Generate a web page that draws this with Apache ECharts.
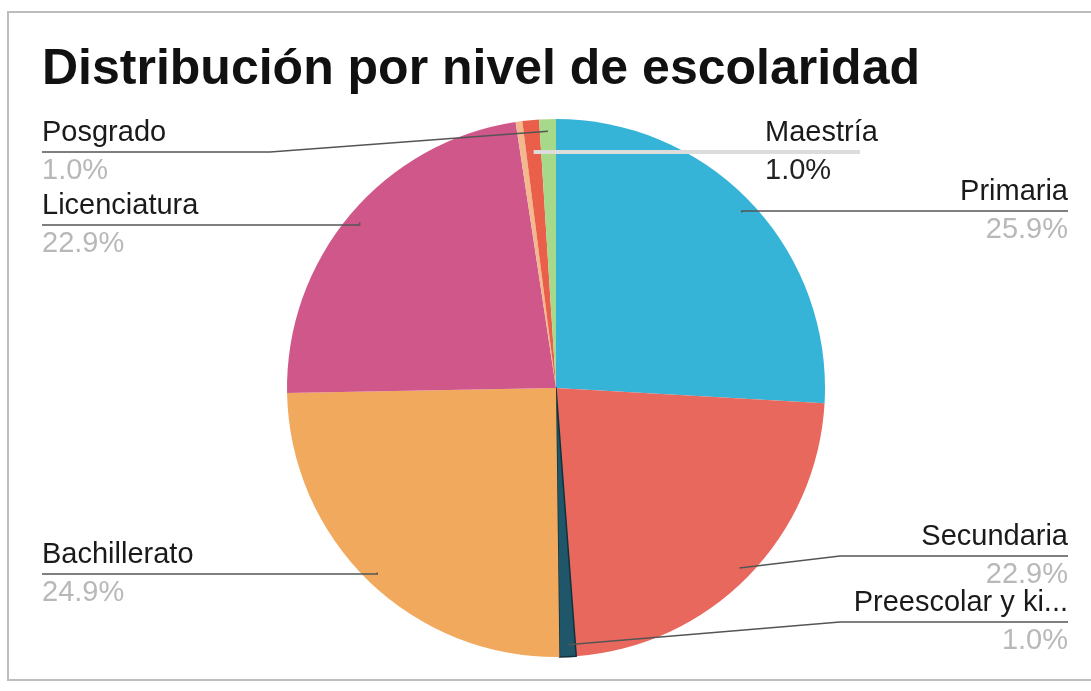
<!DOCTYPE html>
<html>
<head>
<meta charset="utf-8">
<script src="https://cdn.jsdelivr.net/npm/echarts@6/dist/echarts.min.js"></script>
<style>
html,body{margin:0;padding:0;background:#fff;}
#chart{width:1091px;height:691px;}
</style>
</head>
<body>
<div id="chart"></div>
<script>
// ---- data ----
const categories = ['Primaria', 'Secundaria', 'Preescolar y ki...', 'Bachillerato', 'Licenciatura', 'Otro', 'Maestría', 'Posgrado'];
const values = [25.9, 22.9, 1.0, 24.9, 22.9, 0.4, 1.0, 1.0];
const titleText = 'Distribución por nivel de escolaridad';

// ---- styling / layout (not data) ----
const colors = ['#35B4D8', '#E9685D', '#1F566A', '#F1A95D', '#D0578A', '#F3B88E', '#EA5F49', '#A7D98A'];
const CX = 556, CY = 388, R = 269;
const FONT = '"Liberation Sans", Arial, sans-serif';
const placement = [
  {side: 'right', lineY: 211, edge: 1068, rf: 0.95},
  {side: 'right', lineY: 556, edge: 1068, rf: 0.955, bend: 840},
  {side: 'right', lineY: 622, edge: 1068, rf: 0.955, bend: 840},
  {side: 'left',  lineY: 574, edge: 42,   rf: 0.955},
  {side: 'left',  lineY: 225, edge: 42,   rf: 0.955},
  null,
  {side: 'mid',   lineY: 152, edge: 860,  labelX: 765},
  {side: 'left',  lineY: 152, edge: 42,   rf: 0.955, bend: 270}
];

const total = values.reduce((a, b) => a + b, 0);
function midAngle(i) {
  let s = 0;
  for (let k = 0; k < i; k++) s += values[k];
  return (s + values[i] / 2) / total * 2 * Math.PI;
}

const pieData = categories.map((name, i) => {
  const item = {name: name, value: values[i], itemStyle: {color: colors[i]}};
  if (i === 2) { item.itemStyle.borderColor = '#10303a'; item.itemStyle.borderWidth = 1.5; }
  return item;
});

const labelData = categories.map((name, i) => {
  const item = {name: name, value: values[i]};
  if (!placement[i]) {
    item.label = {show: false};
    item.labelLine = {show: false};
  }
  if (placement[i] && placement[i].side === 'mid') {
    item.labelLine = {lineStyle: {color: '#dcdcdc', width: 4}};
    item.label = {rich: {p: {color: '#222'}}};
  }
  return item;
});

const chart = echarts.init(document.getElementById('chart'));
chart.setOption({
  animation: false,
  backgroundColor: '#fff',
  title: {
    text: titleText,
    left: 37, top: 40,
    textStyle: {fontFamily: FONT, fontSize: 50, fontWeight: 'bold', color: '#111'}
  },
  graphic: [{
    type: 'rect', shape: {x: 8, y: 12, width: 1100, height: 668},
    style: {fill: 'none', stroke: '#bdbdbd', lineWidth: 2}, silent: true, z: -1
  }],
  series: [{
    type: 'pie',
    z: 2,
    center: [CX, CY],
    radius: R,
    startAngle: 90,
    clockwise: true,
    silent: true,
    data: pieData,
    label: {show: false},
    labelLine: {show: false}
  }, {
    type: 'pie',
    z: 5,
    center: [CX, CY],
    radius: R,
    startAngle: 90,
    clockwise: true,
    silent: true,
    data: labelData,
    itemStyle: {color: 'rgba(0,0,0,0)', borderWidth: 0},
    label: {
      show: true,
      position: 'outside',
      formatter: p => '{n|' + p.name + '}\n{p|' + p.value.toFixed(1) + '%}',
      rich: {
        n: {fontFamily: FONT, fontSize: 29, color: '#1a1a1a', lineHeight: 38},
        p: {fontFamily: FONT, fontSize: 29, color: '#b8b8b8', lineHeight: 38}
      }
    },
    labelLine: {show: true, lineStyle: {color: '#555', width: 1.5}, smooth: false},
    labelLayout: function (params) {
      const i = params.dataIndex;
      const pl = placement[i];
      if (!pl) return {};
      const a = midAngle(i);
      let x0, y0;
      if (pl.side === 'mid') {
        y0 = pl.lineY;
        x0 = CX + (CY - y0) * Math.tan(a);
      } else {
        x0 = CX + R * pl.rf * Math.sin(a);
        y0 = CY - R * pl.rf * Math.cos(a);
      }
      const pts = pl.bend !== undefined
        ? [[x0, y0], [pl.bend, pl.lineY], [pl.edge, pl.lineY]]
        : [[x0, y0], [x0, pl.lineY], [pl.edge, pl.lineY]];
      let lx, align;
      if (pl.side === 'right') { lx = pl.edge; align = 'right'; }
      else if (pl.side === 'left') { lx = pl.edge; align = 'left'; }
      else { lx = pl.labelX; align = 'left'; }
      return {x: lx, y: pl.lineY, align: align, verticalAlign: 'middle', labelLinePoints: pts};
    }
  }]
});
</script>
</body>
</html>
